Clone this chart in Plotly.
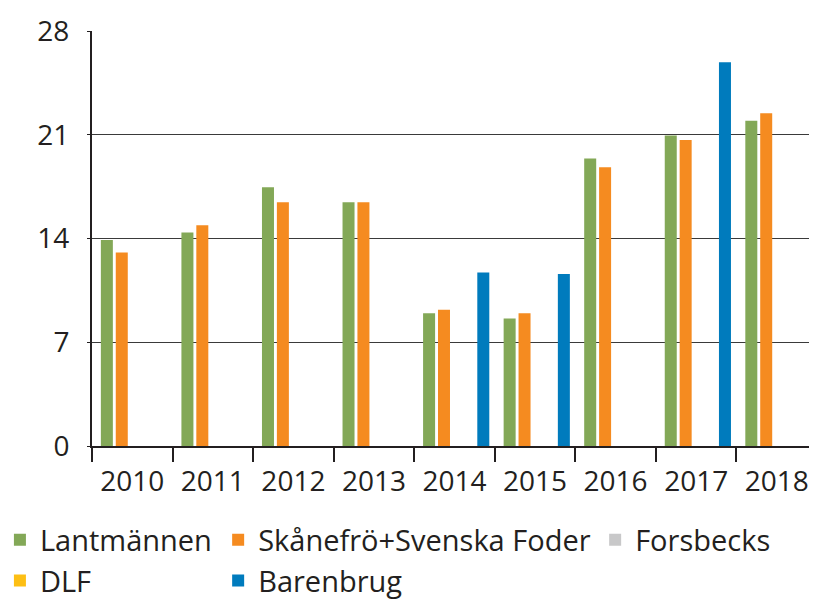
import plotly.graph_objects as go

years = ["2010", "2011", "2012", "2013", "2014", "2015", "2016", "2017", "2018"]
lantmannen = [13.9, 14.4, 17.45, 16.45, 8.95, 8.6, 19.4, 20.95, 21.95]
skanefro = [13.05, 14.9, 16.45, 16.45, 9.2, 8.95, 18.8, 20.65, 22.45]
forsbecks = [None] * 9
dlf = [None] * 9
barenbrug = [None, None, None, None, 11.7, 11.6, None, 25.9, None]
y_ticks = [0, 7, 14, 21, 28]

font_family = "Open Sans, Noto Sans, sans-serif"
text_color = "#231f20"

series = [
    ("Lantmännen", lantmannen, "#83a857", -0.39, "legend"),
    ("Skånefrö+Svenska Foder", skanefro, "#f58b20", -0.205, "legend2"),
    ("Forsbecks", forsbecks, "#c8c8c9", -0.02, "legend3"),
    ("DLF", dlf, "#fdbf14", 0.13, "legend"),
    ("Barenbrug", barenbrug, "#007bbd", 0.283, "legend2"),
]

fig = go.Figure()
for name, vals, color, off, lg in series:
    fig.add_trace(go.Bar(
        x=years, y=vals, name=name, marker=dict(color=color, line=dict(width=0)),
        width=0.149, offset=off, legend=lg,
    ))

legend_common = dict(
    orientation="v", xref="paper", yref="container",
    xanchor="left", yanchor="top", y=0.146,
    font=dict(size=29, color=text_color), bgcolor="rgba(0,0,0,0)",
    tracegroupgap=0, itemclick=False, itemdoubleclick=False,
)

# page body has an 8px margin; figure is sized to fill the rest of the window
fig.update_layout(
    width=809, height=593,
    margin=dict(l=84, r=0, t=23, b=155, autoexpand=False),
    paper_bgcolor="white", plot_bgcolor="white",
    barmode="overlay",
    font=dict(family=font_family, size=28, color=text_color),
    xaxis=dict(
        type="category", tickson="boundaries", ticks="outside", ticklen=14,
        tickwidth=2, tickcolor="#231f20", showline=True, linecolor="#231f20",
        linewidth=2, showgrid=False, range=[-0.5, 8.5], automargin=False,
        ticklabelstandoff=9,
        tickfont=dict(size=28, color=text_color),
    ),
    yaxis=dict(
        range=[0, 28], tickvals=y_ticks, ticktext=[str(v) for v in y_ticks],
        showgrid=True, gridcolor="#3a3a3a", gridwidth=1.3,
        showline=True, linecolor="#231f20", linewidth=2,
        ticks="outside", ticklen=3, tickcolor="#231f20",
        ticklabelstandoff=12, zeroline=False, automargin=False,
        tickfont=dict(size=28, color=text_color),
    ),
    legend=dict(legend_common, x=-0.127),
    legend2=dict(legend_common, x=0.174),
    legend3=dict(legend_common, x=0.694),
    showlegend=True,
)

fig.write_html("out.html")
